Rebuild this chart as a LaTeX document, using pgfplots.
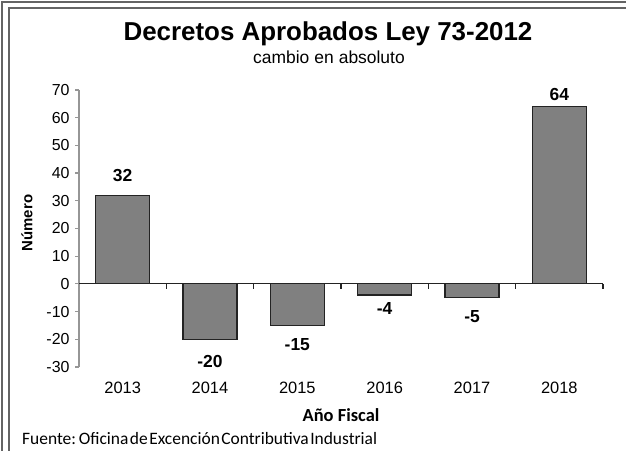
\documentclass[border=0pt]{standalone}
\usepackage{fontspec}
\setmainfont{Liberation Sans}
\newfontfamily\carlito{Carlito}
\usepackage{pgfplots}
\pgfplotsset{compat=1.18}
\definecolor{barfill}{RGB}{128,128,128}
\definecolor{bardraw}{RGB}{35,35,35}
\definecolor{axgray}{RGB}{150,150,150}
\definecolor{framegray}{RGB}{100,100,100}
\pgfplotstableread{
x y off
0 32 13
1 -20 15
2 -15 12.5
3 -4 6.5
4 -5 12
5 64 5
}\datatable
\begin{document}
\begin{tikzpicture}[x=1bp,y=1bp]
\useasboundingbox (0,0) rectangle (626,451);
\draw[line width=1.6bp, framegray] (2,0) -- (2,449) -- (626,449);
\draw[line width=1.2bp, framegray] (9,0) -- (9,443) -- (626,443);
\node[font=\bfseries\fontsize{26}{26}\selectfont] at (328,417) {Decretos Aprobados Ley 73-2012};
\node[font=\fontsize{17.5}{17.5}\selectfont] at (329,394) {cambio\hspace{5bp}en\hspace{5bp}absoluto};
\node[font=\bfseries\fontsize{15}{15}\selectfont, rotate=90] at (27,228) {Número};
\node[font=\carlito\bfseries\fontsize{18.5}{18.5}\selectfont] at (341,36) {Año Fiscal};
\node[font=\carlito\fontsize{17.5}{17.5}\selectfont, anchor=west, inner sep=0pt] at (22,12) {\spaceskip=1.5bp Fuente: Oficina de Excención Contributiva Industrial};
\begin{axis}[
  at={(79bp,84bp)}, anchor=south west,
  scale only axis, width=524bp, height=277bp,
  xmin=-0.5, xmax=5.5, ymin=-30, ymax=70,
  ytick={-30,-20,...,70},
  xtick={0,...,5}, xticklabels={2013,2014,2015,2016,2017,2018},
  axis y line*=left, axis x line*=bottom,
  x axis line style={draw=none},
  y axis line style={axgray, line width=1.2bp},
  xtick style={draw=none},
  ytick style={axgray, line width=1.2bp},
  tick align=outside, major tick length=4bp,
  /pgf/number format/assume math mode=true,
  yticklabel style={font=\fontsize{16}{16}\selectfont, xshift=-2bp},
  xticklabel style={font=\fontsize{16.5}{16.5}\selectfont, yshift=-8bp},
  clip=false,
]
\addplot[ybar, bar width=54bp, fill=barfill, draw=bardraw, line width=1.2bp,
  visualization depends on={\thisrow{off} \as \myoff},
  nodes near coords,
  nodes near coords align=vertical,
  every node near coord/.append style={font=\bfseries\fontsize{17.5}{17.5}\selectfont, text=black, inner ysep=\myoff bp, inner xsep=0pt},
] table[x=x, y=y] {\datatable};
\draw[bardraw, line width=1.2bp] (axis cs:-0.5,0) -- (axis cs:5.5,0);
\draw[bardraw, line width=1.2bp] (axis cs:0.5,0) -- (axis cs:0.5,-1.8);
\draw[bardraw, line width=1.2bp] (axis cs:1.5,0) -- (axis cs:1.5,-1.8);
\draw[bardraw, line width=1.2bp] (axis cs:2.5,0) -- (axis cs:2.5,-1.8);
\draw[bardraw, line width=1.2bp] (axis cs:3.5,0) -- (axis cs:3.5,-1.8);
\draw[bardraw, line width=1.2bp] (axis cs:4.5,0) -- (axis cs:4.5,-1.8);
\draw[bardraw, line width=1.2bp] (axis cs:5.5,0) -- (axis cs:5.5,-1.8);
\draw[axgray, line width=1.2bp] (axis cs:-0.5,0) -- (axis cs:-0.5,-1.8);
\end{axis}
\end{tikzpicture}
\end{document}
